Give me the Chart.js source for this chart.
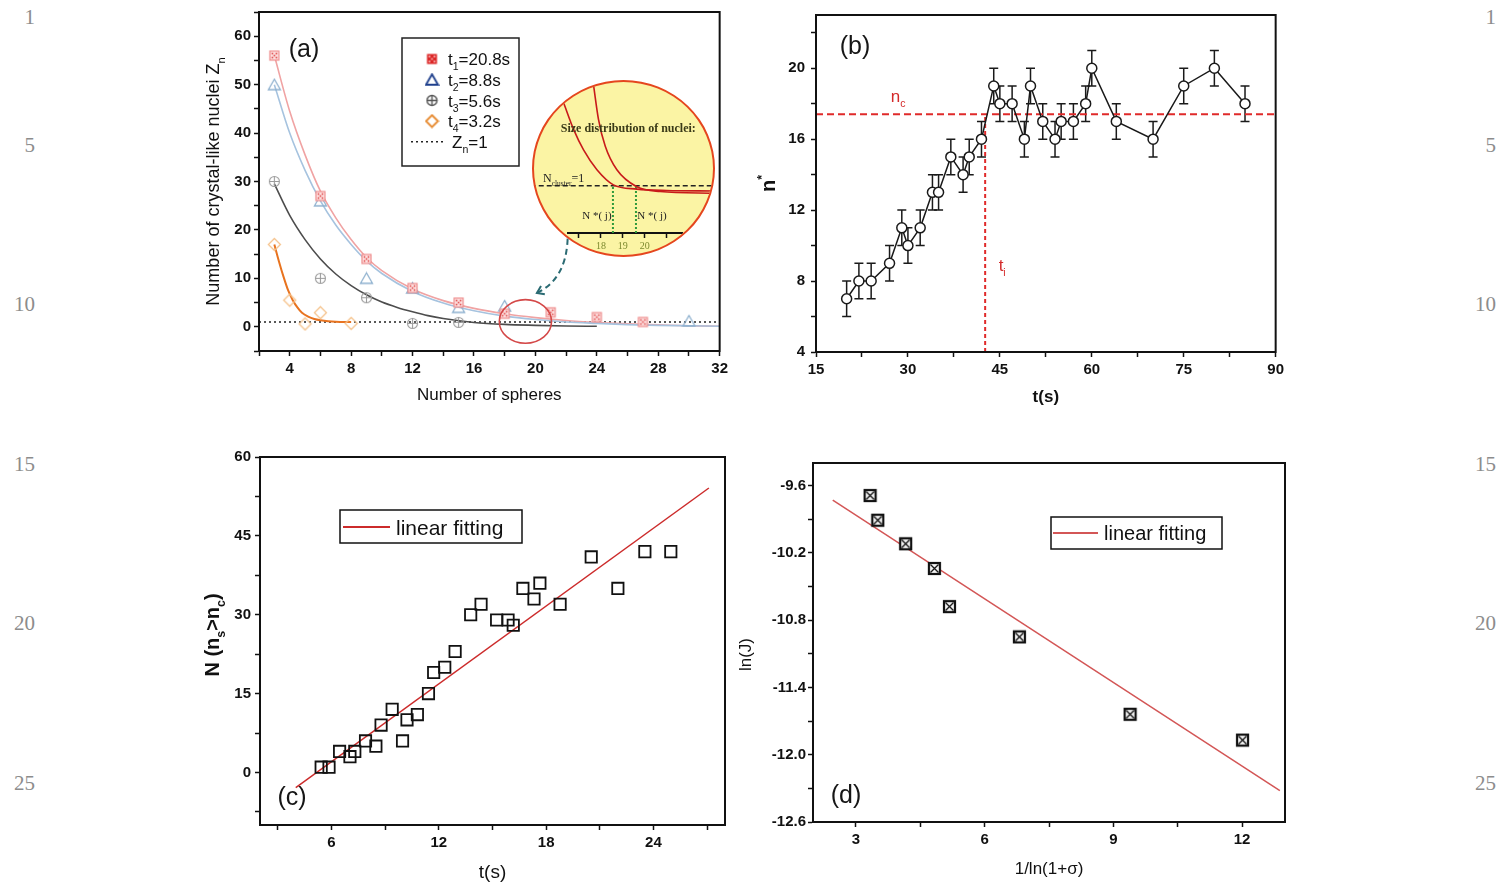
<!DOCTYPE html>
<html lang="en">
<head>
<meta charset="utf-8">
<title>Crystal-like nuclei</title>
<script src="https://cdn.jsdelivr.net/npm/chart.js@4.4.1/dist/chart.umd.min.js"></script>
<style>
html, body { margin: 0; padding: 0; background: #fff; }
body { position: relative; width: 1497px; height: 882px; overflow: hidden; font-family: "Liberation Sans", Arial, sans-serif; }
canvas { position: absolute; }
.ln { position: absolute; width: 40px; text-align: right; font: 21px/1 "Liberation Serif", serif; color: #8c8c8c; }
.tag { position: absolute; transform: translate(-50%, -50%); font-size: 25px; color: #161616; white-space: nowrap; }
#inset { position: absolute; left: 532px; top: 80px; width: 183px; height: 177px; box-sizing: border-box;
         border: 2px solid #e5461e; border-radius: 50%; background: #fbf4a4; overflow: hidden; }
</style>
</head>
<body>
<div class="ln" style="left:-5px;top:7px">1</div>
<div class="ln" style="left:-5px;top:135px">5</div>
<div class="ln" style="left:-5px;top:294px">10</div>
<div class="ln" style="left:-5px;top:454px">15</div>
<div class="ln" style="left:-5px;top:613px">20</div>
<div class="ln" style="left:-5px;top:773px">25</div>
<div class="ln" style="left:1456px;top:7px">1</div>
<div class="ln" style="left:1456px;top:135px">5</div>
<div class="ln" style="left:1456px;top:294px">10</div>
<div class="ln" style="left:1456px;top:454px">15</div>
<div class="ln" style="left:1456px;top:613px">20</div>
<div class="ln" style="left:1456px;top:773px">25</div>

<canvas id="cA"></canvas>
<canvas id="cB"></canvas>
<canvas id="cC"></canvas>
<canvas id="cD"></canvas>
<div id="inset"><canvas id="cIn"></canvas></div>

<div class="tag" style="left:304px;top:48px">(a)</div>
<div class="tag" style="left:855px;top:45px">(b)</div>
<div class="tag" style="left:292px;top:796px">(c)</div>
<div class="tag" style="left:846px;top:794px">(d)</div>

<script>
const FONT = '"Liberation Sans", Arial, Helvetica, sans-serif';
const SERIF = '"Liberation Serif", "Times New Roman", serif';

// ---------- (a) size distribution ----------
const sizeT1 = [3, 6, 9, 12, 15, 18, 21, 24, 27];
const zT1 = [56, 27, 14, 8, 5, 2.7, 3, 2, 1];
const sizeT2 = [3, 6, 9, 12, 15, 18, 30];
const zT2 = [50, 26, 10, 8, 4, 4.3, 1.2];
const sizeT3 = [3, 6, 9, 12, 15];
const zT3 = [30, 10, 6, 0.7, 0.9];
const sizeT4 = [3, 4, 5, 6, 8];
const zT4 = [17, 5.5, 0.6, 2.9, 0.7];

// fitted curves
const fitS1 = [3, 4, 5, 6, 7, 8, 9, 10, 12, 14, 16, 18, 20, 22, 24, 26, 28, 30, 32];
const fitZ1 = [56, 44.5, 35.5, 28, 22.5, 18, 14.3, 11.6, 7.8, 5.4, 3.8, 2.7, 1.9, 1.3, 0.9, 0.6, 0.4, 0.2, 0.1];
const fitS2 = [3, 4, 5, 6, 7, 8, 9, 10, 12, 14, 16, 18, 20, 22, 24, 26, 28, 30, 32];
const fitZ2 = [50, 40, 32.3, 26, 21, 17, 13.6, 11, 7.3, 4.9, 3.3, 2.2, 1.5, 1.0, 0.7, 0.45, 0.3, 0.2, 0.1];
const fitS3 = [3, 4, 5, 6, 7, 8, 9, 10, 11, 12, 13, 14, 16, 18, 20, 22, 24];
const fitZ3 = [29.5, 23, 18, 14, 10.9, 8.5, 6.6, 5.1, 4, 3.1, 2.3, 1.7, 0.9, 0.5, 0.3, 0.15, 0.1];
const fitS4 = [3, 3.3, 3.6, 3.9, 4.2, 4.5, 4.8, 5.2, 5.6, 6, 7, 8];
const fitZ4 = [17, 13.5, 10.3, 7.5, 5.5, 4, 2.9, 2.1, 1.6, 1.35, 1.05, 1.0];
const zOneLevel = 1;
const sizeSpan = [2, 32];

// inset (zoom of the crossing region)
const inS1 = [16.3, 16.76, 17.21, 17.82, 18.57, 19.64, 21.0, 23.2];
const inZ1 = [2.76, 2.19, 1.76, 1.34, 1.02, 0.93, 0.9, 0.89];
const inS2 = [17.66, 17.89, 18.2, 18.73, 19.64, 20.7, 23.2];
const inZ2 = [3.15, 2.41, 1.84, 1.34, 0.98, 0.88, 0.84];
const inSpan = [14.8, 23.3];
const inCross = [18.55, 19.6];

// ---------- (b) critical size vs time ----------
const tB = [20, 22, 24, 27, 29, 30, 32, 34, 35, 37, 39, 40, 42, 44, 45, 47, 49, 50, 52, 54, 55, 57, 59, 60, 64, 70, 75, 80, 85];
const nB = [7, 8, 8, 9, 11, 10, 11, 13, 13, 15, 14, 15, 16, 19, 18, 18, 16, 19, 17, 16, 17, 17, 18, 20, 17, 16, 19, 20, 18];
const errB = [1, 1, 1, 1, 1, 1, 1, 1, 1, 1, 1, 1, 1, 1, 1, 1, 1, 1, 1, 1, 1, 1, 1, 1, 1, 1, 1, 1, 1];
const ncLevel = 17.4;
const tiTime = 42.6;
const tSpanB = [15, 90];

// ---------- (c) number of supercritical nuclei ----------
const tC = [5.42, 5.86, 6.45, 7.03, 7.30, 7.90, 8.48, 8.77, 9.39, 9.97, 10.22, 10.80, 11.42, 11.71, 12.33, 12.91,
            13.78, 14.36, 15.23, 15.87, 16.16, 16.70, 17.32, 17.65, 18.78, 20.52, 22.01, 23.52, 24.97];
const nC = [1, 1, 4, 3, 4, 6, 5, 9, 12, 6, 10, 11, 15, 19, 20, 23, 30, 32, 29, 29, 28, 35, 33, 36, 32, 41, 35, 42, 42];
const fitTC = [4.0, 27.1];
const fitNC = [-2.9, 54.1];

// ---------- (d) nucleation rate ----------
const invD = [3.33, 3.51, 4.16, 4.83, 5.18, 6.81, 9.39, 12.01];
const lnJ = [-9.69, -9.91, -10.12, -10.34, -10.68, -10.95, -11.64, -11.87];
const fitInvD = [2.46, 12.88];
const fitLnJ = [-9.73, -12.32];

// ---------- helpers ----------
const pts = (xs, ys) => xs.map((x, i) => ({ x, y: ys[i] }));

function mk(w, h, draw) {
  const c = document.createElement('canvas');
  c.width = w; c.height = h;
  draw(c.getContext('2d'));
  return c;
}
const sqMark = (edge, fill, dot) => mk(13, 13, g => {
  g.fillStyle = fill; g.fillRect(2, 2, 9, 9);
  g.strokeStyle = edge; g.lineWidth = 1.2; g.strokeRect(2, 2, 9, 9);
  g.fillStyle = dot;
  [[4.5, 4.5], [8.5, 4.5], [6.5, 6.5], [4.5, 8.5], [8.5, 8.5]].forEach(([x, y]) => g.fillRect(x - 0.8, y - 0.8, 1.6, 1.6));
});
const triMark = (edge, lw) => mk(15, 14, g => {
  g.strokeStyle = edge; g.lineWidth = lw;
  g.beginPath(); g.moveTo(7.5, 1.5); g.lineTo(13.5, 12); g.lineTo(1.5, 12); g.closePath(); g.stroke();
});
const cirMark = (edge, lw) => mk(13, 13, g => {
  g.strokeStyle = edge; g.lineWidth = lw;
  g.beginPath(); g.arc(6.5, 6.5, 5, 0, Math.PI * 2); g.stroke();
  g.beginPath(); g.moveTo(6.5, 1.5); g.lineTo(6.5, 11.5); g.moveTo(1.5, 6.5); g.lineTo(11.5, 6.5); g.stroke();
});
const diaMark = (edge, lw) => mk(15, 15, g => {
  g.strokeStyle = edge; g.lineWidth = lw;
  g.beginPath(); g.moveTo(7.5, 1.5); g.lineTo(13.5, 7.5); g.lineTo(7.5, 13.5); g.lineTo(1.5, 7.5); g.closePath(); g.stroke();
});
const xsqMark = mk(15, 15, g => {
  g.fillStyle = '#f4f4f4'; g.fillRect(2, 2, 11, 11);
  g.strokeStyle = '#111'; g.lineWidth = 1.3;
  g.beginPath(); g.moveTo(3.5, 3.5); g.lineTo(11.5, 11.5); g.moveTo(11.5, 3.5); g.lineTo(3.5, 11.5); g.stroke();
  g.lineWidth = 2.2; g.strokeRect(2, 2, 11, 11);
});

// text with sub/superscripts; parts are strings or [text, 'sub'|'sup']
function rich(ctx, parts, x, y, f, rot, align, color) {
  ctx.save();
  ctx.translate(x, y);
  ctx.rotate(rot || 0);
  ctx.fillStyle = color || '#111';
  ctx.textBaseline = 'alphabetic';
  ctx.textAlign = 'left';
  const fam = f.family || FONT;
  const seg = parts.map(p => {
    const t = typeof p === 'string' ? p : p[0];
    const k = typeof p === 'string' ? '' : p[1];
    const s = k ? f.size * 0.62 : f.size;
    const font = `${f.weight || 'normal'} ${s}px ${fam}`;
    ctx.font = font;
    return { t, k, font, w: ctx.measureText(t).width };
  });
  const total = seg.reduce((s, g) => s + g.w, 0);
  let cx = align === 'left' ? 0 : -total / 2;
  const base = f.size * 0.36;
  for (const g of seg) {
    ctx.font = g.font;
    const dy = g.k === 'sub' ? f.size * 0.3 : g.k === 'sup' ? -f.size * 0.45 : 0;
    ctx.fillText(g.t, cx, base + dy);
    cx += g.w;
  }
  ctx.restore();
}

function axis(min, max, step, major, fmt, pad, fit) {
  return {
    type: 'linear', min, max,
    ticks: {
      stepSize: step, includeBounds: false, autoSkip: false, maxRotation: 0, padding: pad,
      color: '#111', font: { family: FONT, size: 15, weight: 'bold' },
      callback: v => Math.abs(v / major - Math.round(v / major)) < 1e-6 ? fmt(v) : ''
    },
    grid: { drawOnChartArea: false, drawTicks: true, tickLength: 5, tickWidth: 1.5, tickColor: '#111' },
    border: { display: true, color: '#111', width: 2 },
    afterFit: fit
  };
}

function setup(id, g) {
  const c = document.getElementById(id);
  c.width = g.w; c.height = g.h;
  c.style.left = g.left + 'px'; c.style.top = g.top + 'px';
  return c;
}

function decor(cfg) {
  return {
    id: 'decor',
    beforeDatasetsDraw(chart) { if (cfg.under) cfg.under(chart); },
    afterDraw(chart) {
      const { ctx, chartArea: a } = chart;
      ctx.save();
      ctx.strokeStyle = '#111'; ctx.lineWidth = 2;
      ctx.strokeRect(a.left, a.top, a.right - a.left, a.bottom - a.top);
      rich(ctx, cfg.xTitle, (a.left + a.right) / 2, a.bottom + cfg.xDy, cfg.xFont, 0);
      rich(ctx, cfg.yTitle, a.left - cfg.yDx, (a.top + a.bottom) / 2 + (cfg.yShift || 0), cfg.yFont, -Math.PI / 2);
      if (cfg.over) cfg.over(chart);
      ctx.restore();
    }
  };
}

function options(g, x, y) {
  return {
    responsive: false, animation: false, devicePixelRatio: 1, events: [],
    layout: { padding: { left: 0, top: g.padTop, right: g.padRight, bottom: 0 } },
    plugins: { legend: { display: false }, tooltip: { enabled: false } },
    scales: { x, y }
  };
}

function legendBox(ctx, a, box, lineX, lineY, color, textX, size) {
  ctx.strokeStyle = '#111'; ctx.lineWidth = 1.5;
  ctx.strokeRect(a.left + box[0], a.top + box[1], box[2], box[3]);
  ctx.strokeStyle = color; ctx.lineWidth = 1.8;
  ctx.beginPath(); ctx.moveTo(a.left + lineX[0], a.top + lineY); ctx.lineTo(a.left + lineX[1], a.top + lineY); ctx.stroke();
  rich(ctx, ['linear fitting'], a.left + textX, a.top + lineY, { size }, 0, 'left', '#111');
}

// ---------- chart (a) ----------
const gA = { left: 200, top: 0, w: 532, h: 406, wy: 59, hx: 55, padTop: 12, padRight: 12 };
const m1 = sqMark('#ee8c8c', '#fde3e3', '#e04848');
const m2 = triMark('#8fb1cf', 1.3);
const m3 = cirMark('#9c9c9c', 1.1);
const m4 = diaMark('#f5c38d', 1.3);
const L1 = mk(13, 13, g => { g.fillStyle = '#dc2626'; g.fillRect(1.5, 1.5, 10, 10);
  g.fillStyle = '#f7b0b0'; [[4, 4], [9, 4], [6.5, 6.5], [4, 9], [9, 9]].forEach(([x, y]) => g.fillRect(x - 0.9, y - 0.9, 1.8, 1.8)); });
const L2 = triMark('#1e3f8c', 1.8);
const L3 = cirMark('#555', 1.4);
const L4 = diaMark('#e6892e', 1.8);

const markDs = (xs, ys, img) => ({ data: pts(xs, ys), pointStyle: img, pointRadius: 6, showLine: false });
const curveDs = (xs, ys, color, w) => ({ data: pts(xs, ys), showLine: true, borderColor: color, borderWidth: w,
  pointRadius: 0, cubicInterpolationMode: 'monotone', fill: false });

new Chart(setup('cA', gA), {
  type: 'scatter',
  data: { datasets: [
    markDs(sizeT1, zT1, m1), markDs(sizeT2, zT2, m2), markDs(sizeT3, zT3, m3), markDs(sizeT4, zT4, m4),
    curveDs(fitS4, fitZ4, '#e8731f', 2),
    curveDs(fitS3, fitZ3, '#4d4d4d', 1.6),
    curveDs(fitS2, fitZ2, '#a6c3df', 1.6),
    curveDs(fitS1, fitZ1, '#f0a3a3', 1.6),
    { data: pts(sizeSpan, [zOneLevel, zOneLevel]), showLine: true, borderColor: '#222', borderWidth: 1.6,
      borderDash: [2, 3], pointRadius: 0 }
  ] },
  options: options(gA,
    axis(2, 32, 2, 4, v => String(v), 4, s => { s.height = gA.hx; }),
    axis(-5, 65, 5, 10, v => String(v), 3, s => { s.width = gA.wy; })),
  plugins: [decor({
    xTitle: ['Number of spheres'], xDy: 43, xFont: { size: 17 },
    yTitle: ['Number of crystal-like nuclei Z', ['n', 'sub']], yDx: 46, yFont: { size: 18 },
    over(chart) {
      const { ctx, chartArea: a, scales: { x, y } } = chart;
      // highlighted crossing region
      ctx.strokeStyle = '#d44848'; ctx.lineWidth = 1.6;
      ctx.beginPath();
      ctx.ellipse(x.getPixelForValue(19.35), y.getPixelForValue(1.1),
        x.getPixelForValue(19.35 + 1.7) - x.getPixelForValue(19.35),
        y.getPixelForValue(1.1) - y.getPixelForValue(1.1 + 4.5), 0, 0, Math.PI * 2);
      ctx.stroke();
      // dashed pointer to the inset
      const sx = x.getPixelForValue(22.1), sy = y.getPixelForValue(18.2);
      const qx = x.getPixelForValue(22.0), qy = y.getPixelForValue(9.8);
      const ex = x.getPixelForValue(20.1), ey = y.getPixelForValue(7.0);
      ctx.strokeStyle = '#2b6b73'; ctx.lineWidth = 2; ctx.setLineDash([6, 4]);
      ctx.beginPath(); ctx.moveTo(sx, sy); ctx.quadraticCurveTo(qx, qy, ex, ey); ctx.stroke();
      ctx.setLineDash([]);
      const ang = Math.atan2(ey - qy, ex - qx);
      ctx.beginPath();
      ctx.moveTo(ex - 8 * Math.cos(ang - 0.6), ey - 8 * Math.sin(ang - 0.6));
      ctx.lineTo(ex, ey);
      ctx.lineTo(ex - 8 * Math.cos(ang + 0.6), ey - 8 * Math.sin(ang + 0.6));
      ctx.stroke();
      // legend
      ctx.strokeStyle = '#222'; ctx.lineWidth = 1.5;
      ctx.strokeRect(a.left + 143, a.top + 26, 117, 128);
      const rows = [
        [L1, ['t', ['1', 'sub'], '=20.8s']],
        [L2, ['t', ['2', 'sub'], '=8.8s']],
        [L3, ['t', ['3', 'sub'], '=5.6s']],
        [L4, ['t', ['4', 'sub'], '=3.2s']],
        [null, ['Z', ['n', 'sub'], '=1']]
      ];
      rows.forEach(([img, label], i) => {
        const ry = a.top + 47 + i * 20.7;
        if (img) ctx.drawImage(img, a.left + 173 - img.width / 2, ry - img.height / 2);
        else {
          ctx.strokeStyle = '#222'; ctx.lineWidth = 1.6; ctx.setLineDash([2, 3]);
          ctx.beginPath(); ctx.moveTo(a.left + 152, ry); ctx.lineTo(a.left + 186, ry); ctx.stroke();
          ctx.setLineDash([]);
        }
        rich(ctx, label, a.left + (img ? 189 : 193), ry, { size: 17 }, 0, 'left', '#111');
      });
    }
  })]
});

// ---------- inset ----------
const cIn = document.getElementById('cIn');
cIn.width = 179; cIn.height = 173;
cIn.style.left = '0px'; cIn.style.top = '0px';
new Chart(cIn, {
  type: 'scatter',
  data: { datasets: [
    { data: pts(inS1, inZ1), showLine: true, borderColor: '#c81a1a', borderWidth: 1.6, pointRadius: 0, cubicInterpolationMode: 'monotone', clip: false },
    { data: pts(inS2, inZ2), showLine: true, borderColor: '#c81a1a', borderWidth: 1.6, pointRadius: 0, cubicInterpolationMode: 'monotone', clip: false },
    { data: pts(inSpan, [1, 1]), showLine: true, borderColor: '#222', borderWidth: 1.6, borderDash: [5, 3], pointRadius: 0, clip: false },
    { data: pts([inCross[0], inCross[0]], [0, 1]), showLine: true, borderColor: '#2f9a3c', borderWidth: 2, borderDash: [2, 2], pointRadius: 0 },
    { data: pts([inCross[1], inCross[1]], [0, 1]), showLine: true, borderColor: '#2f9a3c', borderWidth: 2, borderDash: [2, 2], pointRadius: 0 }
  ] },
  options: {
    responsive: false, animation: false, devicePixelRatio: 1, events: [],
    layout: { padding: { left: 34, right: 31, top: 0, bottom: 0 } },
    plugins: { legend: { display: false }, tooltip: { enabled: false } },
    scales: {
      x: { type: 'linear', min: 16.5, max: 21.7,
        ticks: { stepSize: 1, includeBounds: false, autoSkip: false, maxRotation: 0, padding: 2,
          color: '#7d8a2e', font: { family: SERIF, size: 10 },
          callback: v => (v >= 18 && v <= 20) ? String(v) : '' },
        grid: { drawOnChartArea: false, tickLength: 5, tickWidth: 1.5, tickColor: '#111' },
        border: { display: true, color: '#111', width: 2 },
        afterFit: s => { s.height = 22; } },
      y: { type: 'linear', display: false, min: 0, max: 3.2 }
    }
  },
  plugins: [{
    id: 'insetText',
    afterDraw(chart) {
      const { ctx, scales: { x, y } } = chart;
      rich(ctx, ['Size distribution of nuclei:'], x.getPixelForValue(19.25), y.getPixelForValue(2.23),
        { size: 12, weight: 'bold', family: SERIF }, 0, 'center', '#3a3a18');
      rich(ctx, ['N', ['cluster', 'sub'], '=1'], x.getPixelForValue(15.36), y.getPixelForValue(1.17),
        { size: 12, family: SERIF }, 0, 'left', '#222');
      rich(ctx, ['N *( j)'], x.getPixelForValue(17.15), y.getPixelForValue(0.38),
        { size: 11, family: SERIF }, 0, 'left', '#222');
      rich(ctx, ['N *( j)'], x.getPixelForValue(19.66), y.getPixelForValue(0.38),
        { size: 11, family: SERIF }, 0, 'left', '#222');
    }
  }]
});

// ---------- chart (b) ----------
const gB = { left: 756, top: 0, w: 532, h: 408, wy: 60, hx: 56, padTop: 14, padRight: 12 };
new Chart(setup('cB', gB), {
  type: 'scatter',
  data: { datasets: [
    { data: pts(tB, nB), showLine: true, borderColor: '#1a1a1a', borderWidth: 1.5,
      pointStyle: 'circle', pointRadius: 5, pointBackgroundColor: '#fff', pointBorderColor: '#1a1a1a', pointBorderWidth: 1.5 },
    { data: pts(tSpanB, [ncLevel, ncLevel]), showLine: true, borderColor: '#e02a2a', borderWidth: 2, borderDash: [7, 4], pointRadius: 0 },
    { data: pts([tiTime, tiTime], [4, ncLevel]), showLine: true, borderColor: '#e02a2a', borderWidth: 2, borderDash: [4, 3], pointRadius: 0 }
  ] },
  options: options(gB,
    axis(15, 90, 7.5, 15, v => String(v), 4, s => { s.height = gB.hx; }),
    axis(4, 23, 2, 4, v => String(v), 6, s => { s.width = gB.wy; })),
  plugins: [decor({
    xTitle: ['t(s)'], xDy: 44, xFont: { size: 17, weight: 'bold' },
    yTitle: ['n', ['*', 'sup']], yDx: 48, yFont: { size: 20, weight: 'bold' },
    under(chart) {
      const { ctx, scales: { x, y } } = chart;
      ctx.save();
      ctx.strokeStyle = '#1a1a1a'; ctx.lineWidth = 1.5;
      tB.forEach((t, i) => {
        const px = x.getPixelForValue(t);
        const lo = y.getPixelForValue(nB[i] - errB[i]), hi = y.getPixelForValue(nB[i] + errB[i]);
        ctx.beginPath();
        ctx.moveTo(px, lo); ctx.lineTo(px, hi);
        ctx.moveTo(px - 4.5, lo); ctx.lineTo(px + 4.5, lo);
        ctx.moveTo(px - 4.5, hi); ctx.lineTo(px + 4.5, hi);
        ctx.stroke();
      });
      ctx.restore();
    },
    over(chart) {
      const { ctx, scales: { x, y } } = chart;
      rich(ctx, ['n', ['c', 'sub']], x.getPixelForValue(28.4), y.getPixelForValue(18.45), { size: 17 }, 0, 'center', '#d42a2a');
      rich(ctx, ['t', ['i', 'sub']], x.getPixelForValue(44.8), y.getPixelForValue(8.9), { size: 17 }, 0, 'left', '#d42a2a');
    }
  })]
});

// ---------- chart (c) ----------
const gC = { left: 200, top: 437, w: 537, h: 445, wy: 60, hx: 57, padTop: 20, padRight: 12 };
new Chart(setup('cC', gC), {
  type: 'scatter',
  data: { datasets: [
    { data: pts(tC, nC), pointStyle: 'rect', pointRadius: 8, pointBorderColor: '#111', pointBorderWidth: 1.8,
      pointBackgroundColor: 'rgba(0,0,0,0)', showLine: false },
    { data: pts(fitTC, fitNC), showLine: true, borderColor: '#cc2b2b', borderWidth: 1.5, pointRadius: 0 }
  ] },
  options: options(gC,
    axis(2, 28, 3, 6, v => String(v), 4, s => { s.height = gC.hx; }),
    axis(-10, 60, 7.5, 15, v => String(v), 4, s => { s.width = gC.wy; })),
  plugins: [decor({
    xTitle: ['t(s)'], xDy: 46, xFont: { size: 19 },
    yTitle: ['N (n', ['s', 'sub'], '>n', ['c', 'sub'], ')'], yDx: 48, yFont: { size: 20, weight: 'bold' }, yShift: -6,
    over(chart) {
      legendBox(chart.ctx, chart.chartArea, [80, 53, 182, 33], [83, 130], 70, '#cc2b2b', 136, 21);
    }
  })]
});

// ---------- chart (d) ----------
const gD = { left: 730, top: 443, w: 567, h: 439, wy: 83, hx: 60, padTop: 20, padRight: 12 };
new Chart(setup('cD', gD), {
  type: 'scatter',
  data: { datasets: [
    { data: pts(invD, lnJ), pointStyle: xsqMark, pointRadius: 6, showLine: false },
    { data: pts(fitInvD, fitLnJ), showLine: true, borderColor: '#d35656', borderWidth: 1.5, pointRadius: 0 }
  ] },
  options: options(gD,
    axis(2, 13, 1.5, 3, v => String(v), 4, s => { s.height = gD.hx; }),
    axis(-12.6, -9.4, 0.3, 0.6, v => v.toFixed(1), 2, s => { s.width = gD.wy; })),
  plugins: [decor({
    xTitle: ['1/ln(1+σ)'], xDy: 46, xFont: { size: 17 },
    yTitle: ['ln(J)'], yDx: 68, yFont: { size: 17 }, yShift: 12,
    over(chart) {
      legendBox(chart.ctx, chart.chartArea, [238, 54, 171, 32], [240, 285], 70, '#d35656', 291, 20);
    }
  })]
});
</script>
</body>
</html>
